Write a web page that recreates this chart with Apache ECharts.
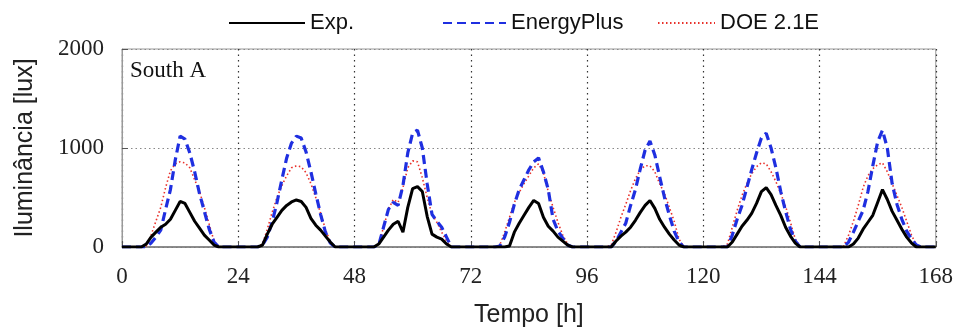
<!DOCTYPE html>
<html>
<head>
<meta charset="utf-8">
<script src="https://cdn.jsdelivr.net/npm/echarts@6/dist/echarts.min.js"></script>
<style>
  html, body { margin: 0; padding: 0; background: #fff; }
  #chart { width: 956px; height: 333px; }
</style>
</head>
<body>
<div id="chart"></div>
<script>
// hourly values, one row per day (hour 0..23 of each day), last value = hour 168
const expData = [
  0,0,0,0,0,30,100,150,200,230,280,370,460,440,350,260,190,120,70,20,0,0,0,0,
  0,0,0,0,0,20,130,230,300,370,420,455,475,460,400,290,220,170,110,50,0,0,0,0,
  0,0,0,0,0,30,100,170,230,260,150,400,590,610,560,310,130,100,80,30,0,0,0,0,
  0,0,0,0,0,0,0,0,10,150,240,320,400,470,440,300,210,160,100,60,20,0,0,0,
  0,0,0,0,0,0,60,110,150,200,270,350,420,470,390,280,200,130,70,20,0,0,0,0,
  0,0,0,0,0,0,50,130,210,270,340,440,560,600,530,420,320,200,110,40,0,0,0,0,
  0,0,0,0,0,0,0,30,90,180,250,320,450,580,480,360,270,180,100,40,0,0,0,0,
  0
];
const energyPlusData = [
  0,0,0,0,0,0,40,100,170,380,580,880,1120,1090,950,760,540,360,180,50,0,0,0,0,
  0,0,0,0,0,20,100,250,450,680,900,1050,1120,1100,960,760,540,330,150,40,0,0,0,0,
  0,0,0,0,0,20,200,380,450,420,620,950,1150,1180,1000,640,330,260,200,100,0,0,0,0,
  0,0,0,0,0,0,10,100,250,430,580,680,780,860,900,760,580,280,160,90,20,0,0,0,
  0,0,0,0,0,0,60,150,240,420,580,790,980,1070,930,710,500,320,160,50,0,0,0,0,
  0,0,0,0,0,0,120,280,420,600,780,950,1100,1150,1000,800,560,360,180,60,0,0,0,0,
  0,0,0,0,0,0,50,150,260,370,560,820,1060,1180,1000,640,430,280,160,80,20,0,0,0,
  0
];
const doeData = [
  0,0,0,0,0,10,120,260,400,600,770,840,860,850,800,680,560,400,230,60,0,0,0,0,
  0,0,0,0,0,30,180,350,500,620,720,800,820,810,750,640,500,340,180,50,0,0,0,0,
  0,0,0,0,0,30,200,380,480,450,600,800,870,860,700,500,330,250,150,60,0,0,0,0,
  0,0,0,0,0,0,20,150,300,450,550,640,720,800,840,750,560,400,250,120,30,0,0,0,
  0,0,0,0,0,20,150,300,430,570,690,780,820,820,760,640,540,400,260,80,0,0,0,0,
  0,0,0,0,0,30,200,370,520,640,740,810,850,840,760,660,540,410,250,80,0,0,0,0,
  0,0,0,0,0,10,120,260,420,600,720,790,830,850,760,640,520,400,260,120,20,0,0,0,
  0
];
const hours = expData.map((v, i) => i);

const pairs = (arr) => arr.map((v, i) => [hours[i], v]);

const serif = "Liberation Serif";
const sans = "Liberation Sans";

const legendText = { fontFamily: sans, fontSize: 22, color: "#111" };
const legendBase = {
  top: 7,
  itemHeight: 14,
  itemGap: 0,
  itemStyle: { opacity: 0, borderWidth: 0 },
  textStyle: legendText,
};

const chart = echarts.init(document.getElementById("chart"));

const option = {
  animation: false,
  grid: {
    left: 122,
    right: 18,
    top: 49,
    bottom: 84,
    show: true,
    borderColor: "#999",
    borderWidth: 1,
  },
  legend: [
    Object.assign({}, legendBase, { data: ["Exp."], left: 223, itemWidth: 76 }),
    Object.assign({}, legendBase, { data: ["EnergyPlus"], left: 437, itemWidth: 63 }),
    Object.assign({}, legendBase, { data: ["DOE 2.1E"], left: 652, itemWidth: 57 }),
  ],
  graphic: [
    {
      type: "text",
      left: 130,
      top: 59,
      style: { text: "South A", font: "23px " + serif, fill: "#111" },
    },
  ],
  xAxis: {
    type: "value",
    min: 0,
    max: 168,
    interval: 24,
    name: "Tempo [h]",
    nameLocation: "middle",
    nameGap: 56,
    nameTextStyle: { fontFamily: sans, fontSize: 25, color: "#222" },
    axisLine: { lineStyle: { color: "#777", width: 1.5 } },
    axisTick: { inside: true, length: 6, lineStyle: { color: "#555" } },
    axisLabel: { fontFamily: serif, fontSize: 23, color: "#222", margin: 18 },
    splitLine: {
      show: true,
      lineStyle: { color: "#333", type: [1.5, 4], width: 1.2 },
    },
  },
  yAxis: {
    type: "value",
    min: 0,
    max: 2000,
    interval: 1000,
    name: "Iluminância [lux]",
    nameLocation: "middle",
    nameGap: 84,
    nameTextStyle: { fontFamily: sans, fontSize: 25, color: "#222" },
    axisLine: { show: true, lineStyle: { color: "#999" } },
    axisTick: { show: true, inside: true, length: 6, lineStyle: { color: "#555" } },
    axisLabel: {
      fontFamily: serif,
      fontSize: 23,
      color: "#222",
      margin: 18,
      formatter: (v) => String(v),
    },
    splitLine: {
      show: true,
      lineStyle: { color: "#888", type: [1.5, 3], width: 1 },
    },
  },
  series: [
    {
      name: "DOE 2.1E",
      type: "line",
      data: pairs(doeData),
      symbol: "none",
      color: "#e8302a",
      lineStyle: { color: "#e8302a", width: 1.6, type: [1.5, 2.5] },
      z: 2,
    },
    {
      name: "EnergyPlus",
      type: "line",
      data: pairs(energyPlusData),
      symbol: "none",
      color: "#1f2fe0",
      lineStyle: { color: "#1f2fe0", width: 3.2, type: [9, 5] },
      z: 3,
    },
    {
      name: "Exp.",
      type: "line",
      data: pairs(expData),
      symbol: "none",
      color: "#000",
      lineStyle: { color: "#000", width: 3 },
      z: 4,
    },
  ],
};

chart.setOption(option);
</script>
</body>
</html>
